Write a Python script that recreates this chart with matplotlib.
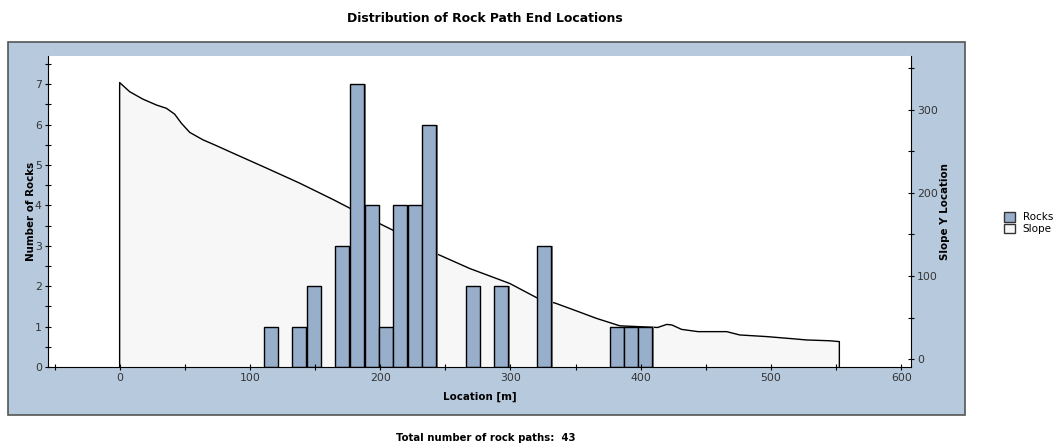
import matplotlib.pyplot as plt
from matplotlib.patches import Rectangle, Patch
from matplotlib.ticker import MultipleLocator

# rock end location histogram (bin centres [m] and counts)
bin_centers = [116, 138, 149, 171, 182.5, 193.5, 204.5, 215.5, 226.5, 237.5,
               271, 293, 326, 381.5, 392.5, 403.5]
rock_counts = [1, 1, 2, 3, 7, 4, 1, 4, 4, 6, 2, 2, 3, 1, 1, 1]
bin_width = 10.8

# slope profile (location [m], slope Y)
slope_x = [0, 7.7, 17.9, 28.2, 35.9, 42.2, 47.4, 53.8, 64, 74.3, 87, 112.7, 138,
           164, 199.7, 210, 243, 268.8, 299.5, 320, 335, 350.6, 366, 384, 413,
           420, 424, 431.4, 444, 466, 476, 497, 520, 527, 545, 552.5]
slope_y = [333, 322, 313, 306, 302, 295, 284, 273, 264, 257, 248, 230, 212,
           192, 163, 155, 127, 109, 91, 74, 67, 58, 49, 40, 38,
           41.7, 41, 35.7, 33, 33, 29, 27, 24, 23, 22, 21]

total_paths = sum(rock_counts)

bar_color = "#98afcb"
panel_color = "#b7c9dd"
slope_fill = "#f7f7f7"
tick_color = "#333333"

fig = plt.figure(figsize=(10.6, 4.44), dpi=100)
fig.patches.append(Rectangle((8 / 1060, 29 / 444), 957 / 1060, 373 / 444,
                             transform=fig.transFigure, facecolor=panel_color,
                             edgecolor="#555555", linewidth=1.2, zorder=-5))

ax = fig.add_axes([48 / 1060, 77 / 444, 863 / 1060, 311 / 444])
ax2 = ax.twinx()
ax2.set_zorder(1)
ax.set_zorder(2)
ax.patch.set_visible(False)
ax2.patch.set_visible(True)
ax2.patch.set_facecolor("white")

# slope on the right axis
ylo2, yhi2 = -9.6, 365
ax2.fill_between(slope_x, slope_y, ylo2, color=slope_fill, linewidth=0)
ax2.plot([slope_x[0]] + slope_x + [slope_x[-1]], [ylo2] + slope_y + [ylo2],
         color="black", linewidth=1.0)
ax2.set_ylim(ylo2, yhi2)

# rocks histogram on the left axis (with a small grey shadow)
ax.bar([c + 1.2 for c in bin_centers], rock_counts, width=bin_width,
       color="#7f7f7f", linewidth=0)
ax.bar(bin_centers, rock_counts, width=bin_width, color=bar_color,
       edgecolor="black", linewidth=1.0)

ax.set_xlim(-55, 607.5)
ax.set_ylim(0, 7.7)

ax.xaxis.set_major_locator(MultipleLocator(100))
ax.xaxis.set_minor_locator(MultipleLocator(50))
ax.yaxis.set_major_locator(MultipleLocator(1))
ax.yaxis.set_minor_locator(MultipleLocator(0.5))
ax2.yaxis.set_major_locator(MultipleLocator(100))
ax2.yaxis.set_minor_locator(MultipleLocator(50))

for a in (ax, ax2):
    a.tick_params(which="both", direction="inout", length=5, width=0.8,
                  labelsize=7.8, labelcolor=tick_color, pad=2)
    a.spines["top"].set_visible(False)
ax.spines["right"].set_visible(False)
ax2.spines["left"].set_visible(False)
ax2.spines["bottom"].set_visible(False)

ax.set_xlabel("Location [m]", fontsize=7.4, fontweight="bold", labelpad=6)
ax.set_ylabel("Number of Rocks", fontsize=7.4, fontweight="bold", labelpad=-1)
ax2.set_ylabel("Slope Y Location", fontsize=7.4, fontweight="bold", labelpad=1)

fig.text(485 / 1060, 1 - 18 / 444, "Distribution of Rock Path End Locations",
         ha="center", va="center", fontsize=8.9, fontweight="bold")
fig.text(486 / 1060, 1 - 438 / 444, f"Total number of rock paths:  {total_paths}",
         ha="center", va="center", fontsize=7.3, fontweight="bold")

handles = [Patch(facecolor=bar_color, edgecolor="#333333", label="Rocks"),
           Patch(facecolor=slope_fill, edgecolor="#333333", label="Slope")]
fig.legend(handles=handles, loc="center left", bbox_to_anchor=(1004 / 1060, 1 - 223 / 444),
           frameon=False, fontsize=7.5, handlelength=1.1, handleheight=1.0,
           handletextpad=0.7, labelspacing=0.1, borderpad=0, borderaxespad=0)

fig.savefig("out.png", dpi=100)
